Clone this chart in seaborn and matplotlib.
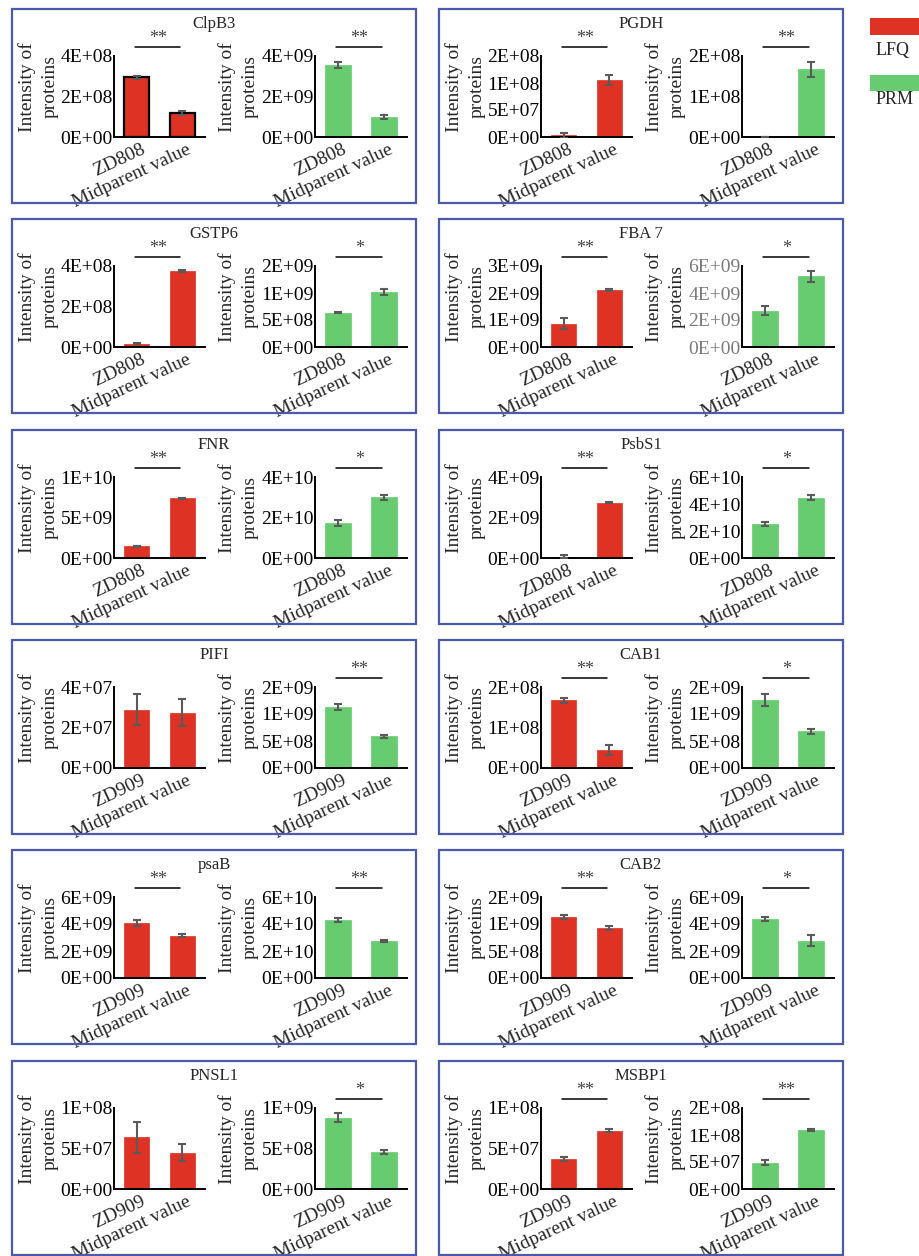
import matplotlib
matplotlib.use("Agg")
import matplotlib.pyplot as plt
import matplotlib.transforms as mtransforms
from matplotlib.patches import Rectangle
import pandas as pd
import seaborn as sns

# Values
genes = ["ClpB3", "PGDH", "GSTP6", "FBA 7", "FNR", "PsbS1",
         "PIFI", "CAB1", "psaB", "CAB2", "PNSL1", "MSBP1"]
parents = ["ZD808"] * 6 + ["ZD909"] * 6

lfq_mean = [[2.94e8, 1.19e8], [3e6, 1.06e8], [1.6e7, 3.75e8], [8.6e8, 2.1e9],
            [1.43e9, 7.35e9], [7e7, 2.74e9], [2.87e7, 2.72e7], [1.67e8, 4.4e7],
            [4.07e9, 3.13e9], [1.13e9, 9.26e8], [6.4e7, 4.5e7], [3.67e7, 7.22e7]]
lfq_err = [[6e6, 8e6], [4e6, 9e6], [3e6, 3e6], [2.1e8, 3e7],
           [1e8, 1e8], [6e7, 3e7], [7.7e6, 6.7e6], [7e6, 1.3e7],
           [2e8, 1e8], [3.4e7, 2.8e7], [1.9e7, 1.06e7], [2.2e6, 2.4e6]]
prm_mean = [[3.54e9, 9.8e8], [5e5, 1.67e8], [6.36e8, 1.01e9], [2.68e9, 5.25e9],
            [1.73e10, 2.99e10], [2.52e10, 4.46e10], [1.13e9, 5.9e8], [1.26e9, 6.8e8],
            [4.3e10, 2.74e10], [4.36e9, 2.77e9], [8.8e8, 4.57e8], [4.9e7, 1.1e8]]
prm_err = [[1.5e8, 1e8], [0, 1.9e7], [1.5e7, 5.5e7], [3.3e8, 4e8],
           [1.6e9, 1.3e9], [1.5e9, 1.7e9], [4.8e7, 2.7e7], [1.04e8, 4.9e7],
           [1.2e9, 1e9], [1.6e8, 3.8e8], [5.9e7, 2.4e7], [4.3e6, 1.8e6]]

lfq_ymax = [4e8, 1.5e8, 4e8, 3e9, 1e10, 4e9, 4e7, 2e8, 6e9, 1.5e9, 1e8, 1e8]
lfq_step = [2e8, 5e7, 2e8, 1e9, 5e9, 2e9, 2e7, 1e8, 2e9, 5e8, 5e7, 5e7]
prm_ymax = [4e9, 2e8, 1.5e9, 6e9, 4e10, 6e10, 1.5e9, 1.5e9, 6e10, 6e9, 1e9, 1.5e8]
prm_step = [2e9, 1e8, 5e8, 2e9, 2e10, 2e10, 5e8, 5e8, 2e10, 2e9, 5e8, 5e7]

lfq_sig = ["**", "**", "**", "**", "**", "**", "", "**", "**", "**", "", "**"]
prm_sig = ["**", "**", "*", "*", "*", "*", "**", "*", "**", "*", "*", "**"]

RED = "#dd3224"
GREEN = "#66cc6f"
BOX = "#4b5aad"
ERR = "#5a5a5a"

W, H = 920, 1256

sns.set_style("white")
plt.rcParams["font.family"] = ["Liberation Serif", "DejaVu Serif"]

fig = plt.figure(figsize=(W / 100, H / 100), dpi=100)


def fig_rect(left, top, width, height):
    return [left / W, 1 - (top + height) / H, width / W, height / H]


def draw_bars(ax, labels, means, errs, color, ymax, step, sig, black_edge=False, tick_color="black"):
    df = pd.DataFrame({"group": labels, "value": means})
    sns.barplot(data=df, x="group", y="value", color=color, width=0.55,
                errorbar=None, ax=ax, saturation=1,
                edgecolor="black" if black_edge else color,
                linewidth=1.6 if black_edge else 0.5)
    ax.errorbar(x=range(len(means)), y=means, yerr=errs, fmt="none",
                ecolor=ERR, elinewidth=1.5, capsize=2.6, capthick=1.5, zorder=5)
    ax.set_xlim(-0.5, 1.5)
    ax.set_ylim(0, ymax)
    ticks = []
    v = 0.0
    while v <= ymax * 1.0001:
        ticks.append(v)
        v += step
    ax.set_yticks(ticks)
    ax.set_yticklabels([f"{t:.0E}" for t in ticks], fontsize=14, color=tick_color)
    ax.tick_params(axis="both", length=0)
    ax.tick_params(axis="y", pad=1)
    ax.tick_params(axis="x", pad=3)
    offset = mtransforms.ScaledTranslation(3 / 72, 0, fig.dpi_scale_trans)
    for lab in ax.get_xticklabels():
        lab.set_rotation(25)
        lab.set_ha("right")
        lab.set_rotation_mode("anchor")
        lab.set_fontsize(14)
        lab.set_transform(lab.get_transform() + offset)
    ax.set_xlabel("")
    ax.set_ylabel("Intensity of\nproteins", fontsize=14, va="center", linespacing=1.42)
    ax.yaxis.set_label_coords(-0.83, 0.62)
    for side in ["top", "right"]:
        ax.spines[side].set_visible(False)
    for side in ["left", "bottom"]:
        ax.spines[side].set_color("black")
        ax.spines[side].set_linewidth(1.4)
    if sig:
        y = ymax * 1.11
        ax.plot([-0.04, 0.96], [y, y], color="black", lw=1.1, clip_on=False)
        ax.text(0.46, y, sig, ha="center", va="bottom", fontsize=13,
                color="#444444", clip_on=False)


row_tops = [9, 219, 430, 640, 850, 1061]
col_lefts = [12, 439]

for i, gene in enumerate(genes):
    r, c = i // 2, i % 2
    L, T = col_lefts[c], row_tops[r]
    box = Rectangle((L / W, 1 - (T + 194) / H), 404 / W, 194 / H,
                    transform=fig.transFigure, fill=False, ec=BOX, lw=1.6)
    fig.add_artist(box)
    fig.text((L + 202) / W, 1 - (T + 15) / H, gene, ha="center", va="center", fontsize=12)

    labels = [parents[i], "Midparent value"]
    ax1 = fig.add_axes(fig_rect(L + 102, T + 47, 91, 81))
    draw_bars(ax1, labels, lfq_mean[i], lfq_err[i], RED, lfq_ymax[i], lfq_step[i],
              lfq_sig[i], black_edge=(i == 0))
    ax2 = fig.add_axes(fig_rect(L + 303, T + 47, 92, 81))
    draw_bars(ax2, labels, prm_mean[i], prm_err[i], GREEN, prm_ymax[i], prm_step[i],
              prm_sig[i], tick_color="#7a7a7a" if gene == "FBA 7" else "black")

# Legend on the right
fig.add_artist(Rectangle((870 / W, 1 - 35 / H), 55 / W, 17 / H,
                         transform=fig.transFigure, fc=RED, ec="none"))
fig.text(893 / W, 1 - 50 / H, "LFQ", ha="center", va="center", fontsize=13)
fig.add_artist(Rectangle((870 / W, 1 - 91 / H), 55 / W, 16 / H,
                         transform=fig.transFigure, fc=GREEN, ec="none"))
fig.text(895 / W, 1 - 100 / H, "PRM", ha="center", va="center", fontsize=13)

fig.savefig("out.png", dpi=100)
